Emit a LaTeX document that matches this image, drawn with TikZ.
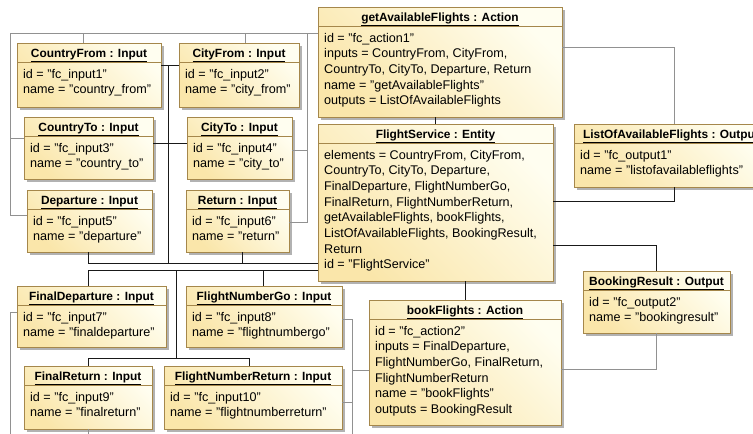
\documentclass[tikz,border=0pt]{standalone}
\usepackage{fontspec}
\setmainfont{Liberation Sans}
\usetikzlibrary{calc}
\definecolor{boxlight}{RGB}{255,254,240}
\definecolor{boxdark}{RGB}{250,230,170}
\definecolor{boxborder}{RGB}{165,135,75}
\definecolor{shadowc}{RGB}{178,178,178}
\definecolor{refc}{RGB}{145,145,145}
\definecolor{compc}{RGB}{25,25,25}
\tikzset{
  objbox/.style={draw=boxborder, line width=0.8pt, top color=boxlight, bottom color=boxdark, shading angle=-45, inner sep=0pt, outer sep=0pt},
  objtitle/.style={font=\fontsize{11.9}{14}\selectfont\bfseries, inner sep=0pt},
  objline/.style={font=\fontsize{12.6}{15}\selectfont, inner sep=0pt},
  ref/.style={draw=refc, line width=0.8pt},
  comp/.style={draw=compc, line width=0.9pt},
}
\newcommand{\umlobj}[7]{%
  \fill[shadowc] (#2+3,#3+3) rectangle (#4+3,#5+3);
  \node[objbox, minimum width={(#4-#2)*1pt}, minimum height={(#5-#3)*1pt}, anchor=north west] (#1) at (#2,#3) {};
  \draw[boxborder, line width=0.8pt] (#2,#3+19) -- (#4,#3+19);
  \node[objtitle, anchor=base] (#1-title) at ({(#2+#4)/2},#3+14) {\underline{#6}};
  \foreach \ln [count=\i] in {#7} {
    \node[objline, anchor=base west] (#1-line\i) at (#2+6,{#3+35+(\i-1)*15.7}) {\ln};
  }%
}
\begin{document}
\begin{tikzpicture}[x=1pt,y=-1pt]
\useasboundingbox (0,0) rectangle (753,434);
\clip (0,0) rectangle (753,434);
\fill[white] (0,0) rectangle (753,434);
% objects
\umlobj{cfrom}{17}{43}{161}{107}{CountryFrom : Input}{{id = "fc\_input1"},{name = "country\_from"}}
\umlobj{cityfrom}{179}{43}{299}{107}{CityFrom : Input}{{id = "fc\_input2"},{name = "city\_from"}}
\umlobj{cto}{24}{117}{153}{179}{CountryTo : Input}{{id = "fc\_input3"},{name = "country\_to"}}
\umlobj{cityto}{187}{117}{292}{179}{CityTo : Input}{{id = "fc\_input4"},{name = "city\_to"}}
\umlobj{dep}{27}{190}{152}{252}{Departure : Input}{{id = "fc\_input5"},{name = "departure"}}
\umlobj{ret}{186}{190}{289}{252}{Return : Input}{{id = "fc\_input6"},{name = "return"}}
\umlobj{getAF}{318}{7}{562}{117}{getAvailableFlights : Action}{{id = "fc\_action1"},{inputs = CountryFrom, CityFrom,},{CountryTo, CityTo, Departure, Return},{name = "getAvailableFlights"},{outputs = ListOfAvailableFlights}}
\umlobj{fs}{318}{124}{553}{281}{FlightService : Entity}{{elements = CountryFrom, CityFrom,},{CountryTo, CityTo, Departure,},{FinalDeparture, FlightNumberGo,},{FinalReturn, FlightNumberReturn,},{getAvailableFlights, bookFlights,},{ListOfAvailableFlights, BookingResult,},{Return},{id = "FlightService"}}
\umlobj{loaf}{574}{124}{768}{187}{ListOfAvailableFlights : Output}{{id = "fc\_output1"},{name = "listofavailableflights"}}
\umlobj{br}{583}{271}{730}{333}{BookingResult : Output}{{id = "fc\_output2"},{name = "bookingresult"}}
\umlobj{bf}{369}{300}{561}{425}{bookFlights : Action}{{id = "fc\_action2"},{inputs = FinalDeparture,},{FlightNumberGo, FinalReturn,},{FlightNumberReturn},{name = "bookFlights"},{outputs = BookingResult}}
\umlobj{fdep}{17}{286}{166}{347}{FinalDeparture : Input}{{id = "fc\_input7"},{name = "finaldeparture"}}
\umlobj{fng}{186}{286}{342}{347}{FlightNumberGo : Input}{{id = "fc\_input8"},{name = "flightnumbergo"}}
\umlobj{fret}{24}{366}{152}{429}{FinalReturn : Input}{{id = "fc\_input9"},{name = "finalreturn"}}
\umlobj{fnr}{164}{366}{342}{429}{FlightNumberReturn : Input}{{id = "fc\_input10"},{name = "flightnumberreturn"}}
% reference connectors (gray)
\draw[ref] (getAF.west |- 0,33) -- (10,33) |- (dep.west |- 0,215);
\draw[ref] (10,138) -- (cto.west |- 0,138);
\draw[ref] (83,33) -- (83,0 |- cfrom.north);
\draw[ref] (245,33) -- (245,0 |- cityfrom.north);
\draw[ref] (307,33) |- (ret.east |- 0,222);
\draw[ref] (307,150) -- (cityto.east |- 0,150);
\draw[ref] (getAF.east |- 0,47) -| (674,0 |- loaf.north);
\draw[ref] (bf.east |- 0,369) -| (br.south);
\draw[ref] (bf.west |- 0,370) -- (352,370);
\draw[ref] (fng.east |- 0,319) -| (352,440);
\draw[ref] (fnr.east |- 0,402) -- (352,402);
\draw[ref] (fdep.west |- 0,312) -| (10,440);
\draw[ref] (88,0 |- fret.south) -- (88,440);
% composition connectors (black)
\draw[comp] (fs.west |- 0,263) -- (88,263) -- (88,0 |- dep.south);
\draw[comp] (168,263) -- (168,65);
\draw[comp] (cfrom.east |- 0,65) -- (cityfrom.west |- 0,65);
\draw[comp] (cto.east |- 0,143) -- (cityto.west |- 0,143);
\draw[comp] (242,263) -- (242,0 |- ret.south);
\draw[comp] (fs.west |- 0,270) -- (88,270) -- (88,0 |- fdep.north);
\draw[comp] (263,270) -- (263,0 |- fng.north);
\draw[comp] (176,270) -- (176,358);
\draw[comp] (88,0 |- fret.north) |- (249,358) -- (249,0 |- fnr.north);
\draw[comp] (fs.north) -- (fs.north |- getAF.south);
\draw[comp] (fs.east |- 0,201) -| (674,0 |- loaf.south);
\draw[comp] (fs.east |- 0,245) -| (br.north);
\draw[comp] (fs.south -| bf.north) -- (bf.north);
\end{tikzpicture}
\end{document}
